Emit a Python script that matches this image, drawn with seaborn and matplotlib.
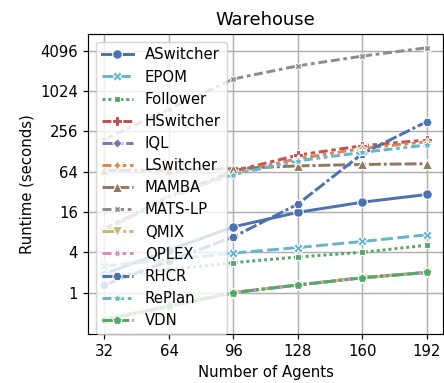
import matplotlib
matplotlib.use("Agg")
import matplotlib.pyplot as plt
import seaborn as sns
import pandas as pd

agents = [32, 64, 96, 128, 160, 192]

ASwitcher = [1.9, 4.3, 9.6, 15.8, 22.4, 29.2]
EPOM = [2.5, 3.1, 3.9, 4.7, 5.8, 7.3]
Follower = [1.75, 2.2, 2.8, 3.4, 4.0, 5.1]
HSwitcher = [9.0, 27, 65, 113, 156, 190]
IQL = [0.40, 0.63, 1.0, 1.30, 1.68, 2.0]
LSwitcher = [8.5, 26, 62, 100, 142, 179]
MAMBA = [67, 67, 71, 78, 82, 84]
MATS_LP = [194, 549, 1552, 2435, 3400, 4540]
QMIX = [0.40, 0.62, 1.0, 1.31, 1.66, 2.02]
QPLEX = [0.39, 0.62, 1.0, 1.30, 1.67, 2.0]
RHCR = [1.3, 2.96, 6.8, 21, 119, 358]
RePlan = [8.4, 28, 58, 93, 124, 160]
VDN = [0.39, 0.62, 1.0, 1.30, 1.66, 2.0]

series = {
    "ASwitcher": ASwitcher, "EPOM": EPOM, "Follower": Follower,
    "HSwitcher": HSwitcher, "IQL": IQL, "LSwitcher": LSwitcher,
    "MAMBA": MAMBA, "MATS-LP": MATS_LP, "QMIX": QMIX, "QPLEX": QPLEX,
    "RHCR": RHCR, "RePlan": RePlan, "VDN": VDN,
}
order = list(series.keys())

deep = sns.color_palette("deep")
palette = {
    "ASwitcher": deep[0], "EPOM": deep[9], "Follower": deep[2],
    "HSwitcher": deep[3], "IQL": deep[4], "LSwitcher": deep[1],
    "MAMBA": deep[5], "MATS-LP": deep[7], "QMIX": deep[8], "QPLEX": deep[6],
    "RHCR": deep[0], "RePlan": deep[9], "VDN": deep[2],
}

rows = []
for name, vals in series.items():
    for a, v in zip(agents, vals):
        rows.append({"Number of Agents": a, "Runtime (seconds)": v, "Algorithm": name})
df = pd.DataFrame(rows)

DPI = 107
fig = plt.figure(figsize=(444 / DPI, 383 / DPI), dpi=DPI)
ax = fig.add_axes([0.199, 0.129, 0.799, 0.782])

sns.lineplot(data=df, x="Number of Agents", y="Runtime (seconds)",
             hue="Algorithm", style="Algorithm", hue_order=order, style_order=order,
             palette=palette, markers=True, dashes=True, linewidth=2.0,
             markersize=6.5, ax=ax)

ax.set_yscale("log", base=2)
yt = [1, 4, 16, 64, 256, 1024, 4096]
ax.set_yticks(yt)
ax.set_yticklabels([str(v) for v in yt])
ax.yaxis.set_minor_locator(matplotlib.ticker.NullLocator())
ax.set_xticks(agents)
ax.set_xticklabels([str(a) for a in agents])
ax.grid(True, color="#b0b0b0", linewidth=1.0)
ax.set_axisbelow(True)
ax.set_title("Warehouse")
ax.legend(loc="upper left", handlelength=2.1, labelspacing=0.48)

fig.savefig("out.png", dpi=DPI)
